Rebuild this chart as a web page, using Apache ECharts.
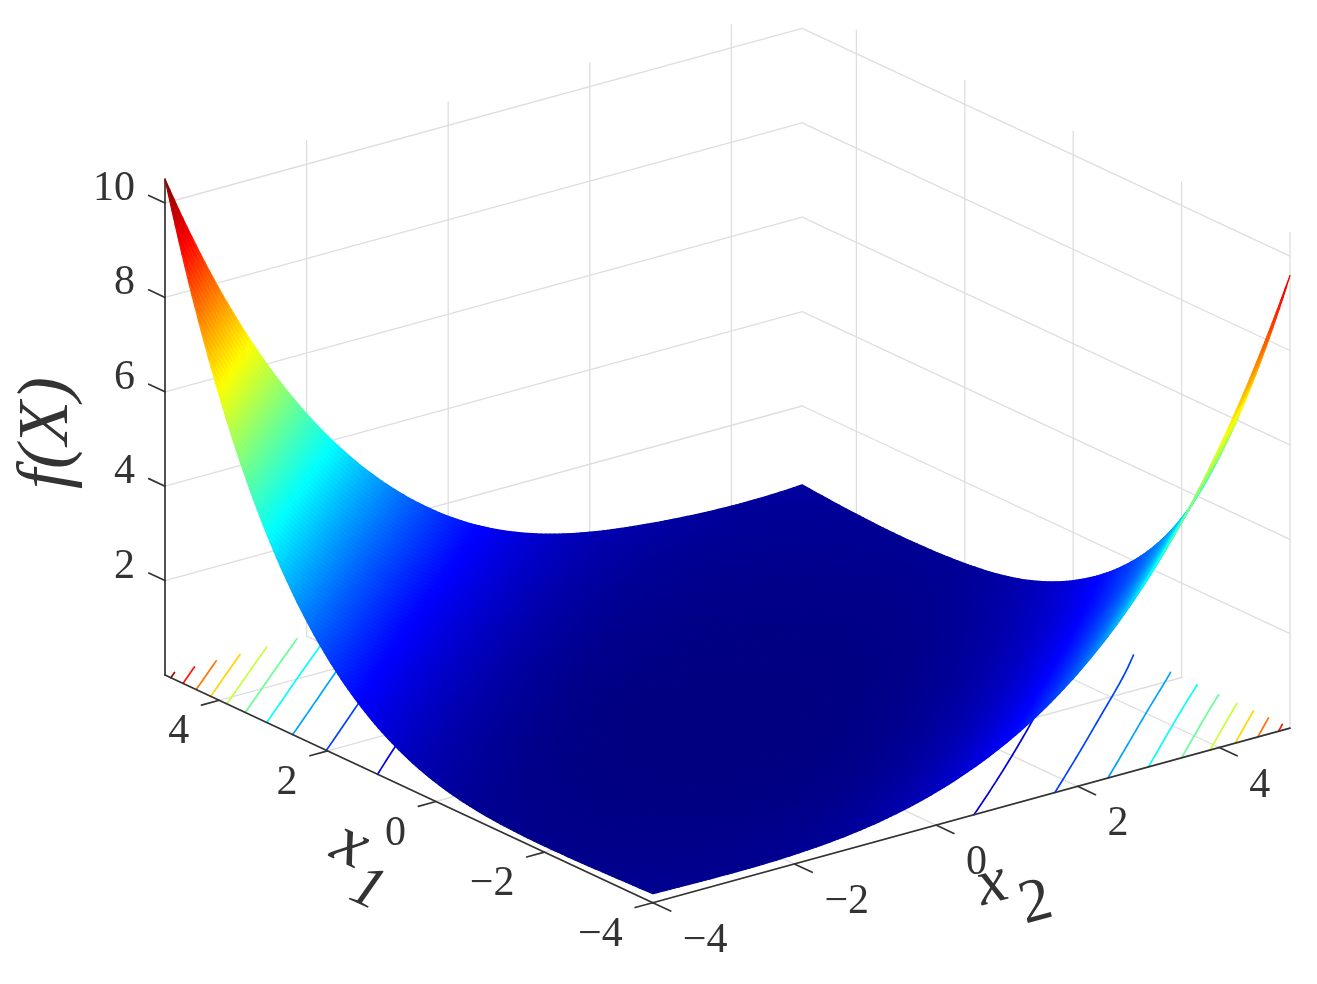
<!DOCTYPE html>
<html><head><meta charset="utf-8">
<style>html,body{margin:0;padding:0;background:#fff}#c{width:1317px;height:984px}</style>
<script src="https://cdn.jsdelivr.net/npm/echarts@6/dist/echarts.min.js"></script>
</head><body><div id="c"></div>
<script>
// ---- data ----
const x1Nodes = [-4,-3,-2,-1,0,1,2,3,4,5];
const x2Nodes = [-4,-3,-2,-1,0,1,2,3,4,5];
const fRowX1m4 = [0.19,0.17,0.20,0.35,0.70,1.34,2.39,4.00,6.35,9.59];
const fRowX1m3 = [0.15,0.11,0.10,0.13,0.26,0.58,1.18,2.17,3.70,5.93];
const fRowX1m2 = [0.13,0.08,0.05,0.04,0.07,0.20,0.50,1.06,1.98,3.38];
const fRowX1m1 = [0.18,0.08,0.03,0.01,0.01,0.05,0.17,0.45,0.98,1.87];
const fRowX10  = [0.40,0.17,0.05,0.01,0.00,0.01,0.05,0.17,0.45,0.98];
const fRowX11  = [0.94,0.45,0.18,0.05,0.01,0.01,0.03,0.08,0.21,0.48];
const fRowX12  = [1.97,1.08,0.53,0.23,0.09,0.05,0.05,0.08,0.13,0.27];
const fRowX13  = [3.72,2.25,1.26,0.65,0.31,0.15,0.11,0.11,0.15,0.21];
const fRowX14  = [6.46,4.18,2.57,1.50,0.80,0.41,0.24,0.19,0.20,0.24];
const fRowX15  = [10.51,7.17,4.71,2.94,1.72,0.96,0.56,0.37,0.29,0.33];
const fRows = [fRowX1m4,fRowX1m3,fRowX1m2,fRowX1m1,fRowX10,fRowX11,fRowX12,fRowX13,fRowX14,fRowX15];
const contourLevels = [1,2,3,4,5,6,7,8,9,10];
const x1Ticks = [-4,-2,0,2,4];
const x2Ticks = [-4,-2,0,2,4];
const zTicks = [2,4,6,8,10];
const zMax = 10.5;

// ---- view of the 3-D box (orthographic) ----
const ORIGIN = [652.8,902.7], X1V = [-54.2,-25.3], X2V = [70.8,-19.4], ZV = -47.2;
const project = (a,b,z) => [ORIGIN[0]+(a+4)*X1V[0]+(b+4)*X2V[0], ORIGIN[1]+(a+4)*X1V[1]+(b+4)*X2V[1]+z*ZV];

// ---- jet colour scale ----
const cl = v => Math.max(0,Math.min(1,v));
function jet(z){ const t=cl(z/zMax);
  const r=cl(Math.min(4*t-1.5,-4*t+4.5)), g=cl(Math.min(4*t-0.5,-4*t+3.5)), b=cl(Math.min(4*t+0.5,-4*t+2.5));
  return 'rgb('+Math.round(r*255)+','+Math.round(g*255)+','+Math.round(b*255)+')'; }

// ---- smooth rendering of the value table (display refinement only) ----
const SUB = 16;
const n = fRows.length;
function refine(y){ // C2 drawing spline through the table values
  const m=y.length, M=new Array(m).fill(0), a=[],b=[],c=[],d=[];
  for(let i=1;i<m-1;i++){
    const end=(i===1||i===m-2);
    a.push(end?0:1); b.push(end?6:4); c.push(end?0:1); d.push(6*(y[i-1]-2*y[i]+y[i+1]));
  }
  for(let i=1;i<d.length;i++){ const f=a[i]/b[i-1]; b[i]-=f*c[i-1]; d[i]-=f*d[i-1]; }
  const s=new Array(d.length);
  for(let i=d.length-1;i>=0;i--) s[i]=(d[i]-(i<d.length-1?c[i]*s[i+1]:0))/b[i];
  s.forEach((v,i)=>M[i+1]=v);
  M[0]=2*M[1]-M[2]; M[m-1]=2*M[m-2]-M[m-3];
  const out=[];
  for(let i=0;i<m-1;i++) for(let k=0;k<SUB+(i===m-2?1:0);k++){
    const t=k/SUB, u=1-t;
    out.push(u*y[i]+t*y[i+1]+((u*u*u-u)*M[i]+(t*t*t-t)*M[i+1])/6);
  }
  return out;
}
const N = (n-1)*SUB;
const fx1 = [], fx2 = [];
for(let i=0;i<=N;i++){ fx1.push(x1Nodes[0]+(x1Nodes[n-1]-x1Nodes[0])*i/N); fx2.push(x2Nodes[0]+(x2Nodes[n-1]-x2Nodes[0])*i/N); }
const rowsRefined = fRows.map(refine);
const colsRefined = [];
for(let j=0;j<=N;j++) colsRefined.push(refine(rowsRefined.map(r=>r[j])));
const fine = [];
for(let i=0;i<=N;i++){ const row=[]; for(let j=0;j<=N;j++) row.push(colsRefined[j][i]); fine.push(row); }

// painter's order: far corner first
const quads=[];
for(let i=N-1;i>=0;i--)for(let j=N-1;j>=0;j--){
  quads.push([fx1[i],fx1[i+1],fx2[j],fx2[j+1],fine[i][j],fine[i+1][j],fine[i+1][j+1],fine[i][j+1]]);
}
// floor contours, stitched into one polyline per branch
const contourPaths=[];
contourLevels.forEach(L=>{
  const segs=[];
  for(let i=0;i<N;i++)for(let j=0;j<N;j++){
    const c=[[i,j],[i+1,j],[i+1,j+1],[i,j+1]], pts=[];
    for(let k=0;k<4;k++){ const A=c[k],B=c[(k+1)%4], za=fine[A[0]][A[1]]-L, zb=fine[B[0]][B[1]]-L;
      if((za<0)!==(zb<0)){ const t=za/(za-zb);
        pts.push([fx1[A[0]]+(fx1[B[0]]-fx1[A[0]])*t, fx2[A[1]]+(fx2[B[1]]-fx2[A[1]])*t]); } }
    if(pts.length>=2) segs.push([pts[0],pts[1]]);
    if(pts.length===4) segs.push([pts[2],pts[3]]);
  }
  const key=p=>p[0].toFixed(4)+','+p[1].toFixed(4);
  const used=new Array(segs.length).fill(false), at={};
  segs.forEach((s,i)=>{ [0,1].forEach(e=>{ const k=key(s[e]); (at[k]=at[k]||[]).push([i,e]); }); });
  const walk=(start,path)=>{ let cur=start; for(;;){ const nx=(at[key(cur)]||[]).find(o=>!used[o[0]]); if(!nx)break;
      used[nx[0]]=true; cur=segs[nx[0]][1-nx[1]]; path.push(cur);} };
  segs.forEach((s,i)=>{ if(used[i])return; used[i]=true;
    const fw=[s[1]]; walk(s[1],fw); const bw=[s[0]]; walk(s[0],bw);
    contourPaths.push({L:L,pts:bw.reverse().concat(fw)}); });
});
// box lines: [x1,x2,z, x1,x2,z]
const x1Lo=-4,x1Hi=5,x2Lo=-4,x2Hi=5;
const gridLines=[], axisLines=[];
zTicks.forEach(z=>{ gridLines.push([x1Hi,x2Lo,z,x1Hi,x2Hi,z]); gridLines.push([x1Hi,x2Hi,z,x1Lo,x2Hi,z]); });
x2Ticks.forEach(t=>{ gridLines.push([x1Lo,t,0,x1Hi,t,0]); if(t>x2Lo) gridLines.push([x1Hi,t,0,x1Hi,t,zMax]); });
x1Ticks.forEach(t=>{ gridLines.push([t,x2Lo,0,t,x2Hi,0]); gridLines.push([t,x2Hi,0,t,x2Hi,zMax]); });
axisLines.push([x1Hi,x2Lo,0,x1Lo,x2Lo,0],[x1Lo,x2Lo,0,x1Lo,x2Hi,0],[x1Hi,x2Lo,0,x1Hi,x2Lo,zMax]);
x1Ticks.forEach(t=>axisLines.push([t,x2Lo,0,t,x2Lo-0.25,0]));
x2Ticks.forEach(t=>axisLines.push([x1Lo,t,0,x1Lo-0.33,t,0]));
zTicks.forEach(z=>axisLines.push([x1Hi,x2Lo,z,x1Hi+0.3,x2Lo,z]));

const fmt = v => v<0 ? '\u2212'+(-v) : String(v);
const FONT='"Liberation Serif","Times New Roman",serif';
const texts=[];
x1Ticks.forEach(t=>{const p=project(t,x2Lo,0);texts.push({t:fmt(t),x:p[0]-30,y:p[1]+32,a:'right',s:42});});
x2Ticks.forEach(t=>{const p=project(x1Lo,t,0);texts.push({t:fmt(t),x:p[0]+30,y:p[1]+38,a:'left',s:42});});
zTicks.forEach(z=>{const p=project(x1Hi,x2Lo,z);texts.push({t:fmt(z),x:p[0]-30,y:p[1]-14,a:'right',s:42});});
texts.push({t:'f(X)',x:48,y:433,a:'center',s:72,i:1,r:Math.PI/2});
texts.push({t:'x',x:350,y:846,a:'center',s:70,i:1,r:-25*Math.PI/180});
texts.push({t:'1',x:367,y:890,a:'center',s:60,i:1,r:-25*Math.PI/180});
texts.push({t:'x',x:992,y:885,a:'center',s:66,i:1,r:15*Math.PI/180});
texts.push({t:'2',x:1036,y:904,a:'center',s:62,r:15*Math.PI/180});

function lineRenderer(color,width){
  return (params,api)=>{ const d=api.value;
    const a=api.coord(project(d(0),d(1),d(2))), b=api.coord(project(d(3),d(4),d(5)));
    return {type:'line',silent:true,shape:{x1:a[0],y1:a[1],x2:b[0],y2:b[1]},style:{stroke:color,lineWidth:width,fill:null,lineCap:'round'}};
  };
}
const base={type:'custom',coordinateSystem:'cartesian2d',silent:true,animation:false,progressive:0,clip:false,
  tooltip:{show:false},emphasis:{disabled:true}};
const chart=echarts.init(document.getElementById('c'),null,{renderer:'canvas'});
chart.setOption({
  animation:false,
  backgroundColor:'#ffffff',
  grid:{left:0,right:0,top:0,bottom:0},
  xAxis:{type:'value',min:0,max:1317,show:false},
  yAxis:{type:'value',min:0,max:984,inverse:true,show:false},
  series:[
    Object.assign({},base,{name:'grid',z:1,data:gridLines,renderItem:lineRenderer('#dedede',1.3),encode:{x:0,y:1}}),
    Object.assign({},base,{name:'contours',z:2,data:contourPaths.map(c=>[c.L,c.pts.length]),encode:{x:0,y:1},renderItem:(params,api)=>{
      const c=contourPaths[params.dataIndex];
      return {type:'polyline',silent:true,shape:{points:c.pts.map(p=>api.coord(project(p[0],p[1],0))),smooth:0},
        style:{stroke:jet(c.L),fill:'none',lineWidth:1.7,lineJoin:'round',lineCap:'round'}};
    }}),
    Object.assign({},base,{name:'axes',z:3,data:axisLines,renderItem:lineRenderer('#333333',1.7),encode:{x:0,y:1}}),
    Object.assign({},base,{name:'f(X)',z:4,data:quads,encode:{x:0,y:2},renderItem:(params,api)=>{
      const q=quads[params.dataIndex];
      const pts=[api.coord(project(q[0],q[2],q[4])),api.coord(project(q[1],q[2],q[5])),api.coord(project(q[1],q[3],q[6])),api.coord(project(q[0],q[3],q[7]))];
      const c=jet((q[4]+q[5]+q[6]+q[7])/4);
      return {type:'polygon',silent:true,shape:{points:pts},style:{fill:c,stroke:c,lineWidth:1.2,lineJoin:'round'}};
    }}),
    Object.assign({},base,{name:'labels',z:5,data:texts.map(t=>[t.x,t.y]),encode:{x:0,y:1},renderItem:(params,api)=>{
      const t=texts[params.dataIndex], p=api.coord([t.x,t.y]);
      return {type:'text',silent:true,x:p[0],y:p[1],rotation:t.r||0,
        style:{x:0,y:0,text:t.t,fill:'#333333',align:t.a,verticalAlign:'middle',fontSize:t.s,fontFamily:FONT,fontStyle:t.i?'italic':'normal'}};
    }})
  ]
});
</script></body></html>
